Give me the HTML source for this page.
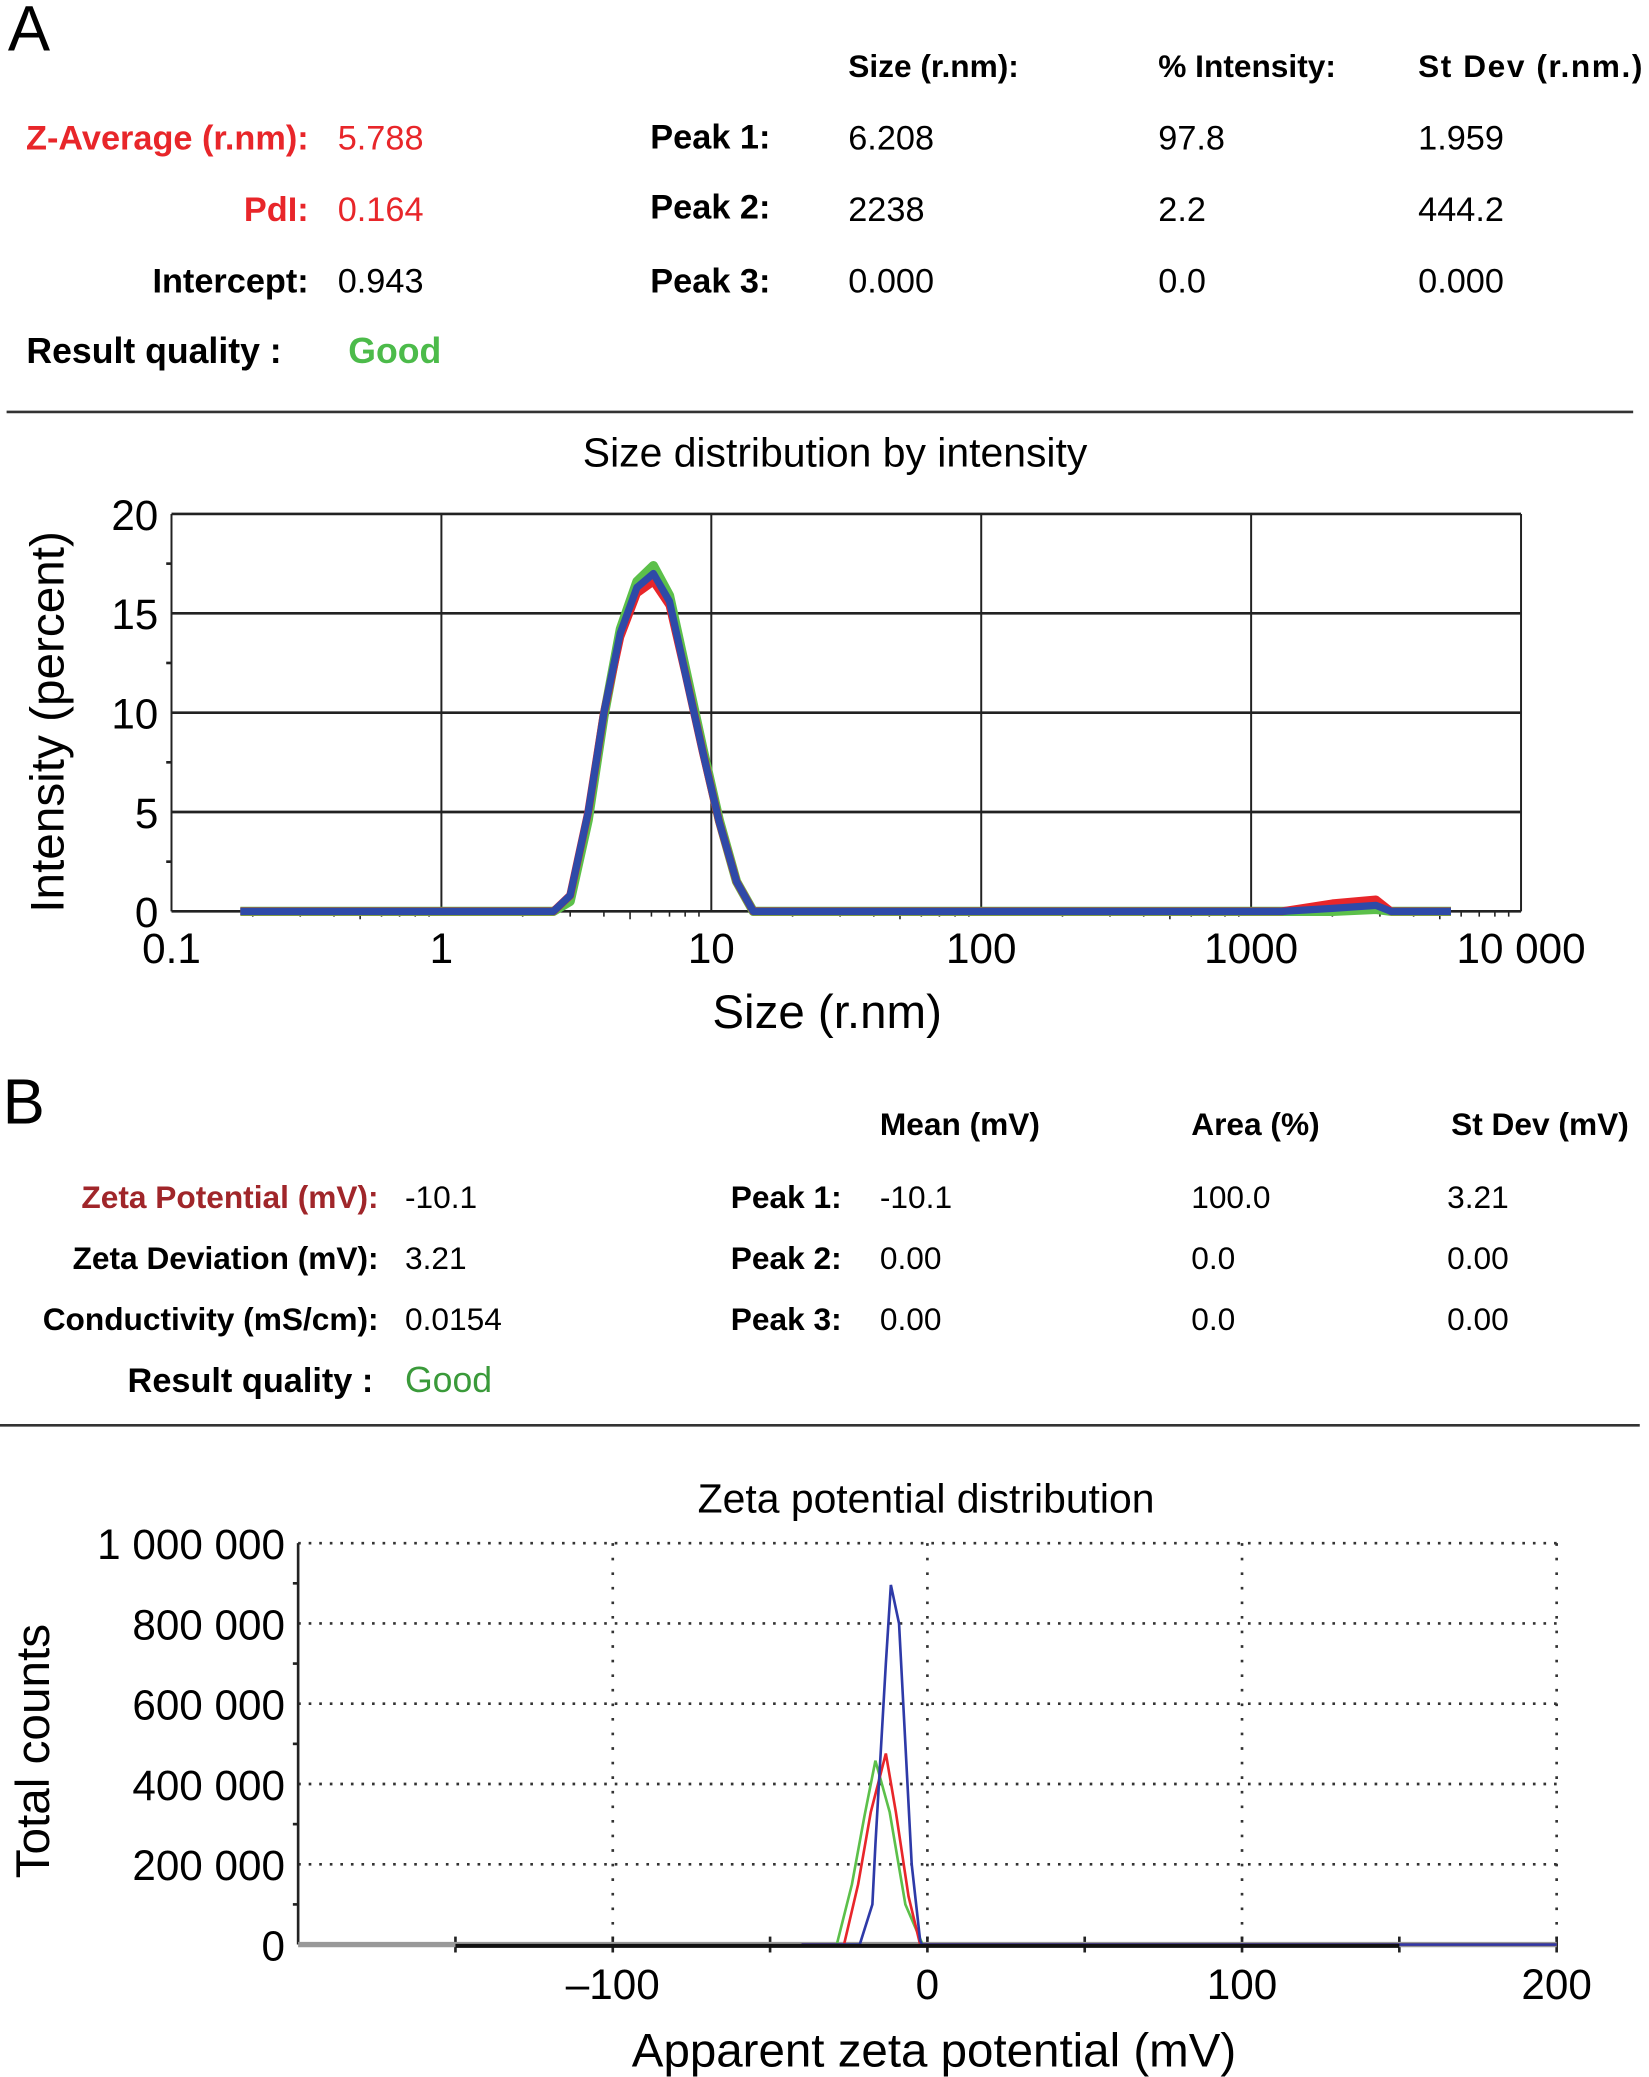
<!DOCTYPE html>
<html><head><meta charset="utf-8"><style>
html,body{margin:0;padding:0;background:#fff;}
svg{display:block;font-family:"Liberation Sans",Arial,sans-serif;}
.b{font-weight:bold;}
</style></head><body>
<svg id="s" width="1649" height="2077" viewBox="0 0 1250 1568" preserveAspectRatio="none" xmlns="http://www.w3.org/2000/svg">
<g font-size="26">
<text x="6" y="38" font-size="48">A</text>
<text x="643" y="58" class="b" font-size="24">Size (r.nm):</text>
<text x="878" y="58" class="b" font-size="24">% Intensity:</text>
<text x="1075" y="58" class="b" font-size="24" textLength="170">St Dev (r.nm.)</text>
<text x="234" y="113" class="b" text-anchor="end" fill="#e8262a">Z-Average (r.nm):</text>
<text x="256" y="113" fill="#e8262a">5.788</text>
<text x="234" y="167" class="b" text-anchor="end" fill="#e8262a">PdI:</text>
<text x="256" y="167" fill="#e8262a">0.164</text>
<text x="234" y="221" class="b" text-anchor="end">Intercept:</text>
<text x="256" y="221">0.943</text>
<text x="20" y="274" class="b" font-size="27">Result quality :</text>
<text x="264" y="274" class="b" font-size="27" fill="#4cbb4a">Good</text>
<text x="584" y="112" class="b" text-anchor="end">Peak 1:</text>
<text x="584" y="165" class="b" text-anchor="end">Peak 2:</text>
<text x="584" y="221" class="b" text-anchor="end">Peak 3:</text>
<text x="643" y="113">6.208</text><text x="878" y="113">97.8</text><text x="1075" y="113">1.959</text>
<text x="643" y="167">2238</text><text x="878" y="167">2.2</text><text x="1075" y="167">444.2</text>
<text x="643" y="221">0.000</text><text x="878" y="221">0.0</text><text x="1075" y="221">0.000</text>
</g>
<line x1="5" y1="311" x2="1238" y2="311" stroke="#333" stroke-width="2"/>
<text x="633" y="352" font-size="31" text-anchor="middle">Size distribution by intensity</text>
<text transform="translate(48,545) rotate(-90)" font-size="36" text-anchor="middle">Intensity (percent)</text>
<text x="627" y="776" font-size="36" text-anchor="middle">Size (r.nm)</text>
<g id="ca"></g>

<g font-size="24">
<text x="2" y="848" font-size="48">B</text>
<text x="667" y="857" class="b">Mean (mV)</text>
<text x="903" y="857" class="b">Area (%)</text>
<text x="1100" y="857" class="b">St Dev (mV)</text>
<text x="287" y="912" class="b" text-anchor="end" fill="#a0262a">Zeta Potential (mV):</text>
<text x="307" y="912">-10.1</text>
<text x="287" y="958" class="b" text-anchor="end">Zeta Deviation (mV):</text>
<text x="307" y="958">3.21</text>
<text x="287" y="1004" class="b" text-anchor="end">Conductivity (mS/cm):</text>
<text x="307" y="1004">0.0154</text>
<text x="283" y="1051" class="b" text-anchor="end" font-size="26">Result quality :</text>
<text x="307" y="1051" font-size="27" fill="#3a9a3a">Good</text>
<text x="638" y="912" class="b" text-anchor="end">Peak 1:</text>
<text x="638" y="958" class="b" text-anchor="end">Peak 2:</text>
<text x="638" y="1004" class="b" text-anchor="end">Peak 3:</text>
<text x="667" y="912">-10.1</text><text x="903" y="912">100.0</text><text x="1097" y="912">3.21</text>
<text x="667" y="958">0.00</text><text x="903" y="958">0.0</text><text x="1097" y="958">0.00</text>
<text x="667" y="1004">0.00</text><text x="903" y="1004">0.0</text><text x="1097" y="1004">0.00</text>
</g>
<line x1="0" y1="1076" x2="1243" y2="1076" stroke="#333" stroke-width="2"/>
<text x="702" y="1142" font-size="31" text-anchor="middle">Zeta potential distribution</text>
<text transform="translate(37,1322) rotate(-90)" font-size="36" text-anchor="middle">Total counts</text>
<text x="708" y="1560" font-size="36" text-anchor="middle">Apparent zeta potential (mV)</text>
<g id="cb"></g>
</svg>
<script>
// Chart A data
const aSizes = [0.18,1,2.6,3,3.5,4,4.6,5.3,6.1,7,8,9.3,10.7,12.4,14.3,100,1300,2000,2900,3300,5500];
const aBlue  = [0,0,0,0.8,5,10,14,16.3,17,15.6,12,8,4.5,1.5,0,0,0,0.15,0.3,0,0];
const aRed   = [0,0,0,0.8,5,10,13.8,16,16.6,15.4,12,8,4.5,1.5,0,0,0,0.4,0.6,0,0];
const aGreen = [0,0,0,0.5,4.6,9.8,14.2,16.6,17.4,15.9,12.3,8.2,4.6,1.5,0,0,0,0.0,0.1,0,0];
const aXTicks = [0.1,1,10,100,1000,10000];
const aXLabels = ["0.1","1","10","100","1000","10 000"];
const aYTicks = [0,5,10,15,20];
// Chart B data
const bX = [-40,-28.8,-26.5,-21.5,-17.5,-16.5,-13.2,-11.6,-9,-5,-2.3,-1.7,0,200];
const bBlue  = [0,0,0,0,100000,250000,700000,896000,800000,200000,10000,0,0,0];
const bRedX = [-40,-26.5,-22,-18,-13.2,-10,-6,-2.3,200];
const bRed  = [0,0,150000,330000,476000,330000,120000,0,0];
const bGreenX = [-40,-28.8,-24,-20,-16.5,-12,-7,-1.5,200];
const bGreen = [0,0,150000,320000,458000,330000,100000,0,0];
const bXTicks = [-100,0,100,200];
const bYTicks = [0,200000,400000,600000,800000,1000000];
const bYLabels = ["0","200 000","400 000","600 000","800 000","1 000 000"];

const NS="http://www.w3.org/2000/svg";
function mk(p,t,a){const e=document.createElementNS(NS,t);for(const k in a)e.setAttribute(k,a[k]);p.appendChild(e);return e;}

// Chart A
const ca=document.getElementById('ca');
const AL=130,AR=1153,AT=388,AB=688;
const ax=v=>AL+(Math.log10(v)+1)/5*(AR-AL);
const ay=v=>AB-v/20*(AB-AT);
aYTicks.forEach(t=>{
  const l=mk(ca,'line',{x1:AL,x2:AR,y1:ay(t),y2:ay(t),stroke:'#222','stroke-width':2});
  
  
  const tx=mk(ca,'text',{x:120,y:ay(t)+12,'font-size':32,'text-anchor':'end'});tx.textContent=t;
  
  
  if(t<20){mk(ca,'line',{x1:AL-4,x2:AL,y1:ay(t+2.5),y2:ay(t+2.5),stroke:'#222','stroke-width':2});}
});
aXTicks.forEach((t,i)=>{
  const l=mk(ca,'line',{x1:ax(t),x2:ax(t),y1:AT,y2:AB,stroke:'#222','stroke-width':1.5});
  
  
  const tx=mk(ca,'text',{x:ax(t),y:727,'font-size':32,'text-anchor':'middle'});tx.textContent=aXLabels[i];
  
  
  if(t<10000)for(let m=2;m<10;m++)mk(ca,'line',{x1:ax(t*m),x2:ax(t*m),y1:AB,y2:AB+(m==5?6:4),stroke:'#222','stroke-width':1.2});
});
function lineA(vals,col,w,name){
  const d=aSizes.map((s,i)=>(i?'L':'M')+ax(s).toFixed(1)+','+ay(vals[i]).toFixed(1)).join('');
  const p=mk(ca,'path',{d:d,fill:'none',stroke:col,'stroke-width':w,'stroke-linejoin':'round'});
  
  
}
lineA(aGreen,'#5cc04a',7,'series-green-a');
lineA(aRed,'#e8262a',6,'series-red-a');
lineA(aBlue,'#2e4aa8',5.5,'series-blue-a');

// Chart B
const cb=document.getElementById('cb');
const BL=226,BR=1180,BT=1165,BB=1468;
const bx=v=>BL+(v+200)/400*(BR-BL);
const by=v=>BB-v/1000000*(BB-BT);
bYTicks.forEach((t,i)=>{
  if(t>0){const l=mk(cb,'line',{x1:BL,x2:BR,y1:by(t),y2:by(t),stroke:'#333','stroke-width':2,'stroke-dasharray':'2 6'});
  
  }
  const tx=mk(cb,'text',{x:216,y:by(t)+12,'font-size':32,'text-anchor':'end'});tx.textContent=bYLabels[i];
  
  
  if(t<1000000)mk(cb,'line',{x1:BL-4,x2:BL,y1:by(t+100000),y2:by(t+100000),stroke:'#222','stroke-width':2});
});
bXTicks.forEach(t=>{
  const l=mk(cb,'line',{x1:bx(t),x2:bx(t),y1:BT,y2:BB,stroke:'#333','stroke-width':2,'stroke-dasharray':'2 9'});
  
  
  const tx=mk(cb,'text',{x:bx(t),y:1509,'font-size':32,'text-anchor':'middle'});tx.textContent=(t<0?'\u2013':'')+Math.abs(t);
  
  
});
[-150,-100,-50,0,50,100,150,200].forEach(t=>mk(cb,'line',{x1:bx(t),x2:bx(t),y1:BB-6,y2:BB+6,stroke:'#222','stroke-width':2}));
mk(cb,'line',{x1:BL,x2:BL,y1:BT,y2:BB,stroke:'#222','stroke-width':2});
mk(cb,'line',{x1:BL,x2:BR,y1:BB,y2:BB,stroke:'#999','stroke-width':4});
function lineB(xs,vals,col,name){
  const d=xs.map((s,i)=>(i?'L':'M')+bx(s).toFixed(1)+','+by(vals[i]).toFixed(1)).join('');
  const p=mk(cb,'path',{d:d,fill:'none',stroke:col,'stroke-width':2});
  
  
}
lineB(bGreenX,bGreen,'#5cc04a','series-green-b');
lineB(bRedX,bRed,'#e8262a','series-red-b');
lineB(bX,bBlue,'#2e3aa8','series-blue-b');
mk(cb,'line',{x1:bx(-150),x2:bx(150),y1:BB+1,y2:BB+1,stroke:'#111','stroke-width':3});
</script>
</body></html>
